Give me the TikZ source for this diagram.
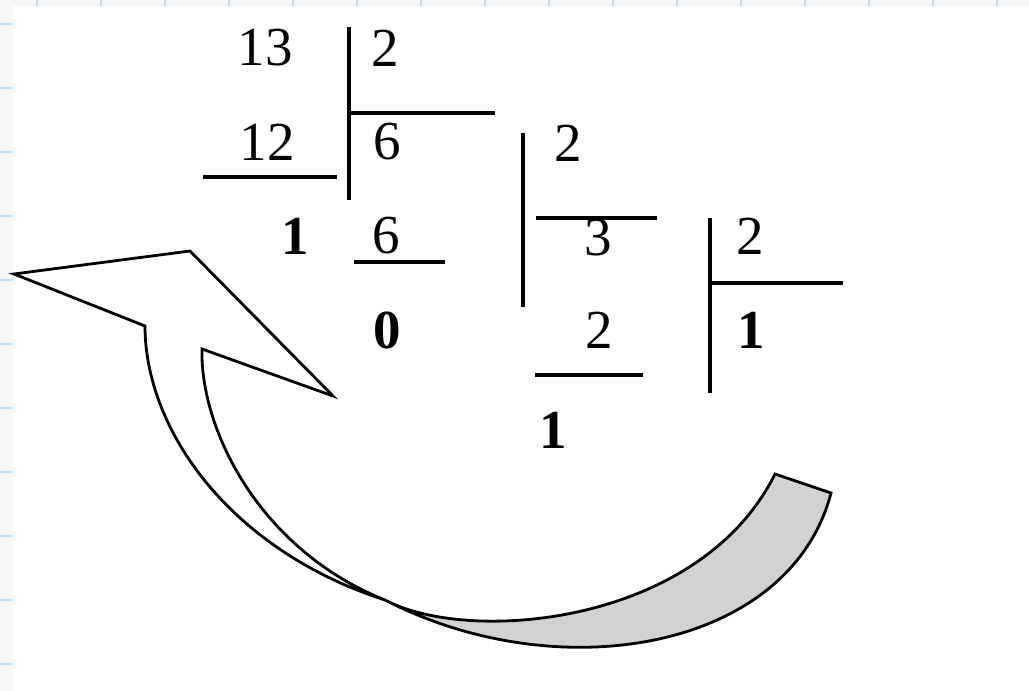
\documentclass[tikz,border=0pt]{standalone}
\usepackage{fontspec}
\setmainfont{Liberation Serif}
\definecolor{Sheet}{HTML}{F7F7F7}
\definecolor{GridTick}{HTML}{C2E2F7}
\definecolor{Ribbon}{HTML}{D2D2D2}
\tikzset{
  digit/.style={inner sep=0pt, font=\fontsize{55}{60}\selectfont},
  remainder/.style={inner sep=0pt, font=\fontsize{55}{60}\selectfont\bfseries},
  bar/.style={line width=3.8pt},
  tick/.style={line width=2pt, draw=GridTick},
  outline/.style={line width=2.8pt, line join=miter}
}

\begin{document}
\begin{tikzpicture}[x=1pt,y=-1pt]
  \useasboundingbox (0,0) rectangle (1029,691);
  \fill[Sheet] (0,0) rectangle (1029,691);
  \fill[white] (13,6) rectangle (1029,691);
  \foreach \i in {0,...,15} \draw[tick] ({37+64*\i},0) -- ++(0,6);
  \foreach \i in {0,...,10} \draw[tick] (0,{24+64*\i}) -- ++(13,0);

  \filldraw[outline, fill=Ribbon] (385,600) .. controls (470,645) and (700,625) .. (775,474)
    -- (831,493) .. controls (790,650) and (560,690) .. (385,600) -- cycle;
  \filldraw[outline, fill=white] (14,274) -- (190,251) -- (333,396) -- (202,349)
    .. controls (200,430) and (260,550) .. (385,600)
    .. controls (230,550) and (145,430) .. (145,326) -- cycle;

  \draw[bar] (349,27) -- (349,200);
  \draw[bar] (349,113) -- (495,113);
  \draw[bar] (203,177) -- (337,177);
  \draw[bar] (354,262) -- (445,262);
  \draw[bar] (523,133) -- (523,307);
  \draw[bar] (536,218) -- (657,218);
  \draw[bar] (535,375) -- (643,375);
  \draw[bar] (710,218) -- (710,393);
  \draw[bar] (710,283) -- (843,283);

  \node[digit] (dividend) at (265,48) {13};
  \node[digit] (divisorA) at (385,48) {2};
  \node[digit] (productA) at (267,142) {12};
  \node[digit] (quotientA) at (387,142) {6};
  \node[remainder] (remA) at (295,236) {1};
  \node[digit] (dividendB) at (386,236) {6};
  \node[remainder] (remB) at (387,330) {0};
  \node[digit] (divisorB) at (568,143) {2};
  \node[digit] (quotientB) at (598,238) {3};
  \node[digit] (productB) at (599,330) {2};
  \node[remainder] (remC) at (553,430) {1};
  \node[digit] (divisorC) at (750,236) {2};
  \node[remainder] (quotientC) at (751,330) {1};
\end{tikzpicture}
\end{document}
